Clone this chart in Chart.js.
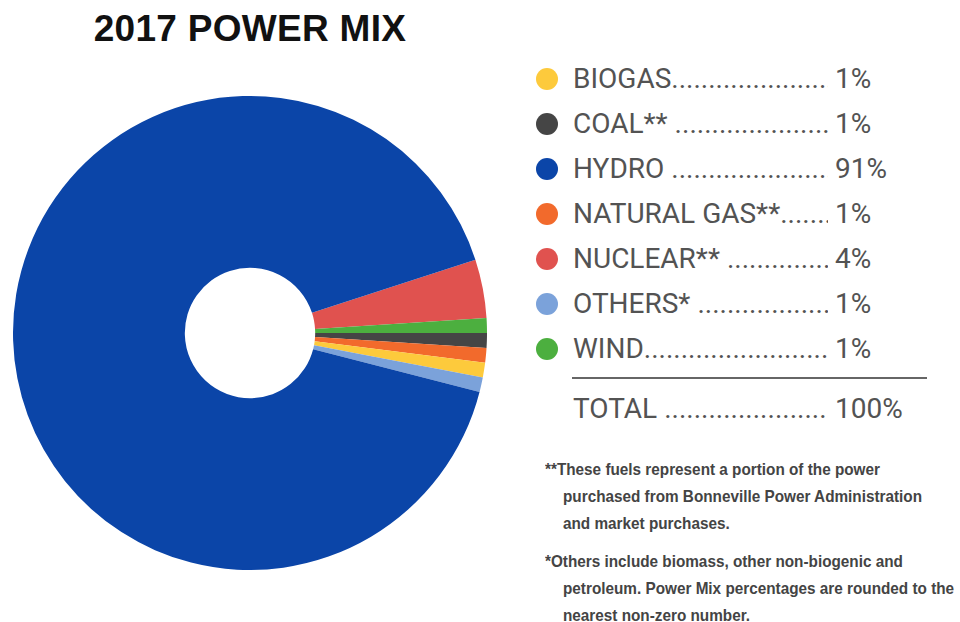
<!DOCTYPE html>
<html>
<head>
<meta charset="utf-8">
<script src="https://cdn.jsdelivr.net/npm/chart.js@4.4.1/dist/chart.umd.min.js"></script>
<style>
  html, body { margin: 0; padding: 0; background: #fff; }
  body { width: 960px; height: 622px; position: relative; overflow: hidden; }

  #title {
    position: absolute; left: 0; top: 10px; width: 500px;
    text-align: center; font: bold 37px/37px "Liberation Sans", Arial, sans-serif;
    color: #111; letter-spacing: 0.3px;
  }
  #pieBox { position: absolute; left: 13px; top: 96px; width: 474px; height: 474px; }

  #legend { position: absolute; left: 536px; top: 56px; width: 400px; }
  .row {
    display: flex; align-items: center; height: 45px; line-height: 45px;
    font: 400 28px Roboto, sans-serif; color: #535353; white-space: nowrap;
  }
  .dot { width: 22px; height: 22px; border-radius: 50%; flex: none; margin-right: 15px; }
  .name { width: 262px; display: flex; flex: none; overflow: hidden; }
  .leader { flex: 1; overflow: hidden; margin-right: 7px; }
  .sep { margin: 6px 0 0 36px; width: 355px; height: 2px; background: #666; }
  .total { margin-top: 7px; padding-left: 37px; }

  #notes {
    position: absolute; left: 545px; top: 456px;
    font: bold 17px/27px "Liberation Sans", Arial, sans-serif;
    color: #444; white-space: nowrap;
    transform: scaleX(0.9); transform-origin: 0 0;
  }
  #notes p { margin: 0 0 11px 0; padding-left: 20px; }
</style>
</head>
<body>
<div id="title">2017 POWER MIX</div>
<div id="pieBox"><canvas id="mix"></canvas></div>
<div id="legend"></div>
<div id="notes">
  <p style="text-indent:-20px">**These fuels represent a portion of the power<br>purchased from Bonneville Power Administration<br>and market purchases.</p>
  <p style="text-indent:-20px">*Others include biomass, other non-biogenic and<br>petroleum. Power Mix percentages are rounded to the<br>nearest non-zero number.</p>
</div>

<script>
/* ================= DATA ================= */
const sources = ["BIOGAS", "COAL** ", "HYDRO ", "NATURAL GAS**", "NUCLEAR** ", "OTHERS* ", "WIND"];
const shares = [1, 1, 91, 1, 4, 1, 1];
const colors = ["#fdca3c", "#454545", "#0b45a8", "#f26a2c", "#e0524f", "#7ba2da", "#4caf3f"];
const totalLabel = "TOTAL ";
const totalShare = 100;

// clockwise order of the slices, starting just above the horizontal
const sliceOrder = [4, 6, 1, 3, 0, 5, 2];

/* ================= LEGEND ================= */
const legend = document.getElementById("legend");
const dots = ".".repeat(80);

function addRow(label, value, color) {
    const row = document.createElement("div");
    row.className = "row" + (color ? "" : " total");
    row.innerHTML =
        (color ? `<span class="dot" style="background:${color}"></span>` : "") +
        `<span class="name"><span style="white-space:pre">${label}</span><span class="leader">${dots}</span></span>` +
        `<span>${value}%</span>`;
    legend.appendChild(row);
}

sources.forEach((s, i) => addRow(s, shares[i], colors[i]));
const sep = document.createElement("div");
sep.className = "sep";
legend.appendChild(sep);
addRow(totalLabel, totalShare, null);

/* ================= PIE ================= */
const pieData = sliceOrder.map(i => shares[i]);
const pieColors = sliceOrder.map(i => colors[i]);
const sum = pieData.reduce((a, b) => a + b, 0);
// wind/coal boundary sits on the horizontal
const startAngle = 90 - (pieData[0] + pieData[1]) / sum * 360;

new Chart(document.getElementById("mix"), {
    type: "doughnut",
    data: {
        labels: sliceOrder.map(i => sources[i].trim()),
        datasets: [{ data: pieData, backgroundColor: pieColors, borderWidth: 0 }]
    },
    options: {
        responsive: true, maintainAspectRatio: false, animation: false,
        cutout: "27.5%", rotation: startAngle,
        layout: { padding: 0 },
        plugins: { legend: { display: false }, tooltip: { enabled: false } }
    }
});
</script>
</body>
</html>
